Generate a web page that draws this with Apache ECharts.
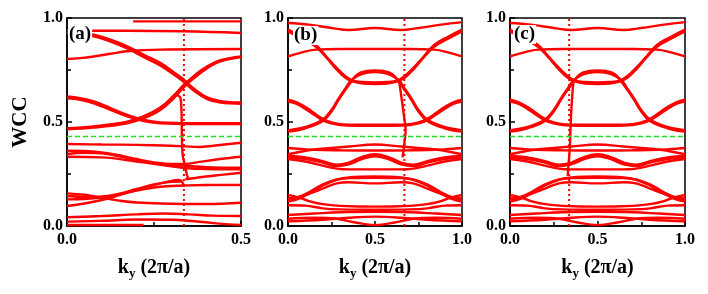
<!DOCTYPE html>
<html><head><meta charset="utf-8">
<script src="https://cdn.jsdelivr.net/npm/echarts@6/dist/echarts.min.js"></script>
<style>html,body{margin:0;padding:0;background:#fff}#c{width:708px;height:294px}</style>
</head><body><div id="c"></div>
<script>
// ---------- data ----------
const panelLabels = ['(a)', '(b)', '(c)'];
const xMax = [0.5, 1, 1];
const yTickLabels = ['0.0', '0.5', '1.0'];
const refLevel = 0.43;          // green dashed line
const cutK = [0.336, 0.669, 0.338]; // vertical dotted lines

// panel (a) bands [ky, WCC]
const a_u1 = [[0.19,0.984],[0.5,0.984]];
const a_u2 = [[0,0.939],[0.173,0.939],[0.336,0.936],[0.5,0.928]];
const a_u3a = [[0,0.931],[0.077,0.92],[0.125,0.896],[0.173,0.864],[0.221,0.823],[0.269,0.783],[0.317,0.727],[0.336,0.703],[0.365,0.66],[0.403,0.618],[0.441,0.6],[0.5,0.594]];
const a_u3b = [[0,0.924],[0.077,0.912],[0.125,0.887],[0.173,0.854],[0.221,0.812],[0.269,0.771],[0.317,0.716],[0.336,0.692],[0.365,0.65],[0.403,0.61],[0.441,0.593],[0.5,0.588]];
const a_u4 = [[0,0.803],[0.038,0.807],[0.077,0.815],[0.125,0.828],[0.173,0.84],[0.269,0.848],[0.5,0.851]];
const a_u5a = [[0,0.465],[0.077,0.473],[0.173,0.494],[0.221,0.518],[0.269,0.559],[0.307,0.615],[0.336,0.668],[0.365,0.711],[0.403,0.759],[0.441,0.791],[0.5,0.812]];
const a_u5b = [[0,0.47],[0.077,0.479],[0.173,0.502],[0.221,0.528],[0.269,0.571],[0.307,0.628],[0.336,0.68],[0.365,0.722],[0.403,0.768],[0.441,0.797],[0.5,0.815]];
const a_u6a = [[0,0.623],[0.038,0.615],[0.077,0.599],[0.125,0.567],[0.173,0.534],[0.221,0.51],[0.269,0.498],[0.365,0.494],[0.5,0.494]];
const a_u6b = [[0,0.614],[0.038,0.607],[0.077,0.59],[0.125,0.558],[0.173,0.527],[0.221,0.505],[0.269,0.494],[0.365,0.49],[0.5,0.49]];
const a_l1 = [[0,0.394],[0.1,0.392],[0.2,0.39],[0.3,0.386],[0.34,0.383],[0.38,0.38],[0.42,0.386],[0.5,0.4]];
const a_l2 = [[0,0.362],[0.05,0.361],[0.1,0.354],[0.15,0.34],[0.2,0.322],[0.25,0.306],[0.3,0.298],[0.34,0.298],[0.38,0.308],[0.44,0.322],[0.5,0.333]];
const a_l3 = [[0,0.346],[0.05,0.352],[0.1,0.349],[0.15,0.335],[0.2,0.316],[0.25,0.302],[0.3,0.294],[0.34,0.289],[0.4,0.283],[0.5,0.28]];
const a_l4 = [[0,0.333],[0.1,0.33],[0.2,0.31],[0.3,0.287],[0.34,0.279],[0.4,0.274],[0.5,0.272]];
const a_l5 = [[0,0.096],[0.05,0.108],[0.1,0.125],[0.15,0.148],[0.2,0.173],[0.25,0.197],[0.29,0.213],[0.32,0.221],[0.33,0.215],[0.335,0.19]];
const a_l5r = [[0.34,0.225],[0.4,0.238],[0.45,0.247],[0.5,0.256]];
const a_l6 = [[0,0.128],[0.05,0.13],[0.1,0.138],[0.15,0.152],[0.2,0.17],[0.25,0.185],[0.3,0.192],[0.34,0.195],[0.4,0.197],[0.5,0.197]];
const a_l7 = [[0,0.144],[0.05,0.14],[0.1,0.142],[0.15,0.155],[0.2,0.178],[0.25,0.2],[0.3,0.212],[0.33,0.214]];
const a_l8 = [[0,0.157],[0.05,0.15],[0.1,0.136],[0.15,0.122],[0.2,0.113],[0.3,0.107],[0.4,0.106],[0.5,0.112]];
const a_b1 = [[0,0.042],[0.1,0.048],[0.2,0.056],[0.28,0.06],[0.35,0.056],[0.42,0.05],[0.5,0.048]];
const a_b2 = [[0,0.021],[0.1,0.025],[0.2,0.031],[0.3,0.03],[0.36,0.024],[0.42,0.014],[0.5,0.005]];
const a_b3 = [[0,0.005],[0.22,0.005]];
const a_steep = [[0.318,0.63],[0.326,0.615],[0.329,0.55],[0.33,0.45],[0.331,0.38],[0.333,0.335],[0.338,0.3],[0.344,0.25],[0.348,0.228]];

// panels (b) and (c) share the same bands
const bc_T1 = [[0,0.976],[0.12,0.968],[0.25,0.952],[0.35,0.942],[0.5,0.952],[0.65,0.942],[0.75,0.952],[0.88,0.968],[1,0.98]];
const bc_T2 = [[0,0.815],[0.08,0.835],[0.16,0.848],[0.3,0.851],[0.5,0.851],[0.7,0.851],[0.84,0.848],[0.92,0.835],[1,0.815]];
const bc_C1 = [[0,0.944],[0.08,0.91],[0.16,0.87],[0.22,0.815],[0.28,0.76],[0.33,0.72],[0.37,0.70],[0.43,0.692],[0.5,0.69],[0.57,0.692],[0.63,0.70],[0.67,0.72],[0.72,0.76],[0.78,0.815],[0.84,0.87],[0.92,0.91],[1,0.944]];
const bc_C2 = [[0,0.935],[0.08,0.9],[0.16,0.862],[0.22,0.81],[0.28,0.752],[0.33,0.712],[0.37,0.695],[0.43,0.685],[0.5,0.683],[0.57,0.685],[0.63,0.695],[0.67,0.712],[0.72,0.752],[0.78,0.81],[0.84,0.862],[0.92,0.9],[1,0.935]];
const bc_A1 = [[0,0.454],[0.1,0.47],[0.2,0.505],[0.25,0.55],[0.29,0.605],[0.33,0.655],[0.36,0.69],[0.4,0.73],[0.45,0.745],[0.5,0.748],[0.55,0.745],[0.6,0.73],[0.64,0.69],[0.67,0.655],[0.71,0.605],[0.75,0.55],[0.8,0.505],[0.9,0.47],[1,0.454]];
const bc_A2 = [[0,0.46],[0.1,0.476],[0.2,0.512],[0.25,0.558],[0.29,0.612],[0.33,0.662],[0.36,0.698],[0.4,0.722],[0.45,0.736],[0.5,0.74],[0.55,0.736],[0.6,0.722],[0.64,0.698],[0.67,0.662],[0.71,0.612],[0.75,0.558],[0.8,0.512],[0.9,0.476],[1,0.46]];
const bc_B1 = [[0,0.607],[0.05,0.595],[0.1,0.572],[0.15,0.543],[0.2,0.515],[0.25,0.498],[0.3,0.49],[0.4,0.487],[0.5,0.487],[0.6,0.487],[0.7,0.49],[0.75,0.498],[0.8,0.515],[0.85,0.543],[0.9,0.572],[0.95,0.595],[1,0.607]];
const bc_B2 = [[0,0.598],[0.05,0.587],[0.1,0.563],[0.15,0.535],[0.2,0.508],[0.25,0.493],[0.3,0.485],[0.4,0.482],[0.5,0.482],[0.6,0.482],[0.7,0.485],[0.75,0.493],[0.8,0.508],[0.85,0.535],[0.9,0.563],[0.95,0.587],[1,0.598]];
const bc_D1 = [[0,0.345],[0.08,0.358],[0.15,0.368],[0.25,0.375],[0.35,0.382],[0.5,0.392],[0.65,0.382],[0.75,0.375],[0.85,0.368],[0.92,0.358],[1,0.345]];
const bc_D2 = [[0,0.375],[0.08,0.37],[0.15,0.366],[0.3,0.364],[0.5,0.363],[0.7,0.364],[0.85,0.366],[0.92,0.37],[1,0.375]];
const bc_E1 = [[0,0.337],[0.1,0.33],[0.2,0.312],[0.28,0.295],[0.35,0.305],[0.42,0.33],[0.5,0.345],[0.58,0.33],[0.65,0.305],[0.72,0.295],[0.8,0.312],[0.9,0.33],[1,0.337]];
const bc_E2 = [[0,0.328],[0.1,0.322],[0.2,0.305],[0.28,0.288],[0.35,0.296],[0.42,0.32],[0.5,0.335],[0.58,0.32],[0.65,0.296],[0.72,0.288],[0.8,0.305],[0.9,0.322],[1,0.328]];
const bc_E3 = [[0,0.322],[0.1,0.31],[0.2,0.29],[0.28,0.276],[0.35,0.272],[0.5,0.272],[0.65,0.272],[0.72,0.276],[0.8,0.29],[0.9,0.31],[1,0.322]];
const bc_F1 = [[0,0.117],[0.06,0.13],[0.12,0.155],[0.2,0.195],[0.28,0.222],[0.35,0.234],[0.5,0.238],[0.65,0.234],[0.72,0.222],[0.8,0.195],[0.88,0.155],[0.94,0.13],[1,0.117]];
const bc_F1b = [[0,0.123],[0.06,0.137],[0.12,0.162],[0.2,0.2],[0.28,0.224],[0.35,0.23],[0.5,0.232],[0.65,0.23],[0.72,0.224],[0.8,0.2],[0.88,0.162],[0.94,0.137],[1,0.123]];
const bc_F2 = [[0,0.133],[0.06,0.14],[0.12,0.155],[0.2,0.18],[0.28,0.205],[0.35,0.21],[0.5,0.205],[0.65,0.21],[0.72,0.205],[0.8,0.18],[0.88,0.155],[0.94,0.14],[1,0.133]];
const bc_G1 = [[0,0.149],[0.06,0.138],[0.12,0.12],[0.2,0.105],[0.3,0.097],[0.5,0.093],[0.7,0.097],[0.8,0.105],[0.88,0.12],[0.94,0.138],[1,0.149]];
const bc_G2 = [[0,0.1],[0.1,0.098],[0.2,0.085],[0.3,0.08],[0.5,0.078],[0.7,0.08],[0.8,0.085],[0.9,0.098],[1,0.1]];
const bc_H1 = [[0,0.053],[0.15,0.06],[0.3,0.066],[0.5,0.068],[0.7,0.066],[0.85,0.06],[1,0.053]];
const bc_H2 = [[0,0.035],[0.15,0.04],[0.28,0.035],[0.38,0.018],[0.5,0.004],[0.62,0.018],[0.72,0.035],[0.85,0.04],[1,0.035]];
const bc_H3 = [[0,0.022],[0.2,0.03],[0.35,0.04],[0.5,0.045],[0.65,0.04],[0.8,0.03],[1,0.022]];
const b_steep = [[0.64,0.69],[0.655,0.6],[0.668,0.52],[0.676,0.46],[0.672,0.42],[0.665,0.37],[0.658,0.33]];
const c_steep = [[0.33,0.24],[0.333,0.28],[0.338,0.33],[0.342,0.38],[0.345,0.45],[0.35,0.55],[0.357,0.64],[0.362,0.69]];

const bandsA = [a_u1,a_u2,a_u3a,a_u3b,a_u4,a_u5a,a_u5b,a_u6a,a_u6b,a_l1,a_l2,a_l3,a_l4,a_l5,a_l5r,a_l6,a_l7,a_l8,a_b1,a_b2,a_b3,a_steep];
const bandsBC = [bc_T1,bc_T2,bc_C1,bc_C2,bc_A1,bc_A2,bc_B1,bc_B2,bc_D1,bc_D2,bc_E1,bc_E2,bc_E3,bc_F1,bc_F1b,bc_F2,bc_G1,bc_G2,bc_H1,bc_H2,bc_H3];
const panelBands = [bandsA, bandsBC.concat([b_steep]), bandsBC.concat([c_steep])];

// ---------- chart ----------
const FONT = 'Liberation Serif';
const RED = '#ff0000';
const grids = [
  {left: 67, top: 18, width: 174, height: 208},
  {left: 288, top: 18, width: 174, height: 208},
  {left: 510, top: 18, width: 175, height: 208}
];
const series = [];
panelBands.forEach((bands, p) => {
  bands.forEach(d => series.push({
    type: 'line', xAxisIndex: p, yAxisIndex: p, data: d, smooth: 0.4,
    symbol: 'none', showSymbol: false, silent: true, clip: true,
    lineStyle: {color: RED, width: 2.4}
  }));
  series.push({
    type: 'line', xAxisIndex: p, yAxisIndex: p, symbol: 'none', silent: true,
    data: [[cutK[p], 0], [cutK[p], 1]],
    lineStyle: {color: RED, width: 2, type: [2, 3]}
  });
  series.push({
    type: 'line', xAxisIndex: p, yAxisIndex: p, symbol: 'none', silent: true,
    data: [[0, refLevel], [xMax[p], refLevel]],
    lineStyle: {color: '#22e022', width: 1.5, type: [5, 3]}, z: 3
  });
});

const xAxes = grids.map((g, p) => ({
  gridIndex: p, type: 'value', min: 0, max: xMax[p], interval: 0.5,
  axisLine: {show: true, lineStyle: {color: '#000', width: 1.5}},
  axisTick: {show: true, inside: true, length: 5, lineStyle: {color: '#000', width: 1.5}},
  minorTick: {show: true, splitNumber: 2, length: 4, lineStyle: {color: '#000', width: 1.5}},
  splitLine: {show: false},
  axisLabel: {formatter: v => v.toFixed(1), fontFamily: FONT, fontWeight: 'bold', fontSize: 16, color: '#000', margin: 6},
  name: '{k|k}{s|y}{k| (2π/a)}', nameLocation: 'middle', nameGap: 30,
  nameTextStyle: {rich: {
    k: {fontFamily: FONT, fontWeight: 'bold', fontSize: 20, color: '#000'},
    s: {fontFamily: FONT, fontWeight: 'bold', fontSize: 13, color: '#000', padding: [11, 0, 0, 0]}
  }}
}));
const yAxes = grids.map((g, p) => ({
  gridIndex: p, type: 'value', min: 0, max: 1, interval: 0.5,
  axisLine: {show: true, lineStyle: {color: '#000', width: 1.5}},
  axisTick: {show: true, inside: true, length: 5, lineStyle: {color: '#000', width: 1.5}},
  minorTick: {show: true, splitNumber: 2, length: 4, lineStyle: {color: '#000', width: 1.5}},
  splitLine: {show: false},
  axisLabel: {formatter: v => yTickLabels[Math.round(v * 2)], fontFamily: FONT, fontWeight: 'bold', fontSize: 16, color: '#000', margin: 4},
  name: p === 0 ? 'WCC' : '', nameLocation: 'middle', nameGap: 36, nameRotate: 90,
  nameTextStyle: {fontFamily: FONT, fontWeight: 'bold', fontSize: 21, color: '#000'}
}));

const labelPos = [[68, 25], [293, 26], [513, 25]];
const titles = panelLabels.map((t, p) => ({
  text: t, left: labelPos[p][0], top: labelPos[p][1], padding: [0, 1, 0, 1],
  backgroundColor: '#fff',
  textStyle: {fontFamily: FONT, fontWeight: 'bold', fontSize: 19, color: '#000'}
}));

const chart = echarts.init(document.getElementById('c'), null, {renderer: 'canvas'});
chart.setOption({
  animation: false,
  backgroundColor: '#fff',
  title: titles,
  grid: grids.map(g => Object.assign({show: true, borderColor: '#000', borderWidth: 1.5, backgroundColor: 'transparent'}, g)),
  xAxis: xAxes,
  yAxis: yAxes,
  series: series
});
</script></body></html>
